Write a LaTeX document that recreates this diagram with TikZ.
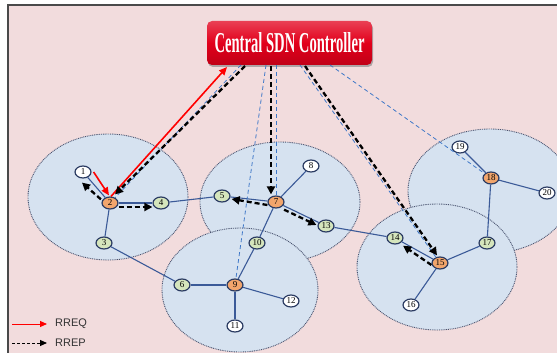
\documentclass[tikz,border=0pt]{standalone}
\usepackage{fontspec}
\usepackage{graphicx}
\setmainfont{Liberation Serif}
\newfontfamily\legendfont{Liberation Sans}
\usetikzlibrary{arrows.meta,shapes.geometric,shadows}

\definecolor{bgpink}{HTML}{F2DCDD}
\definecolor{framegray}{HTML}{4A4A4A}
\definecolor{cellfill}{HTML}{D6E2F0}
\definecolor{cellline}{HTML}{4A5470}
\definecolor{linkblue}{HTML}{3B5A98}
\definecolor{ctrlblue}{HTML}{3F78C8}
\definecolor{nodeedge}{HTML}{2B3B62}
\definecolor{headfill}{HTML}{F2A56C}
\definecolor{memberfill}{HTML}{D5E5BC}
\definecolor{ctrlred}{HTML}{E2001B}

\tikzset{
  cell/.style={fill=cellfill, draw=cellline, line width=0.9pt, dash pattern=on 0.9pt off 0.9pt},
  nd/.style={ellipse, draw=nodeedge, line width=1.2pt, minimum width=16pt, minimum height=12pt,
             inner sep=0pt, font=\fontsize{9}{9}\selectfont},
  head/.style={nd, fill=headfill},
  member/.style={nd, fill=memberfill},
  leaf/.style={nd, fill=white},
  link/.style={draw=linkblue, line width=1.1pt},
  ctrllink/.style={draw=ctrlblue, line width=0.8pt, dash pattern=on 4pt off 3pt},
  rreq/.style={draw=red, line width=1.6pt, -{Triangle[length=8pt,width=7pt]}},
  rrep/.style={draw=black, line width=2.3pt, dash pattern=on 5pt off 3pt, -{Triangle[length=8pt,width=8pt]}},
  ctrlbox/.style={rounded corners=5pt, minimum width=165pt, minimum height=44pt, inner sep=0pt,
                  top color=ctrlred!75!white, bottom color=ctrlred!85!black, middle color=ctrlred,
                  drop shadow={shadow xshift=1pt, shadow yshift=-2pt, opacity=0.6}, text=white},
  legendtext/.style={font=\legendfont\fontsize{11}{11}\selectfont, text=black!80, anchor=west, inner sep=0pt}
}

\begin{document}
\begin{tikzpicture}[x=1pt,y=-1pt]
\useasboundingbox (0,0) rectangle (557,353);
\fill[white] (0,0) rectangle (557,353);
\fill[bgpink] (8,5) rectangle (557,353);

% cluster ranges
\begin{scope}
  \clip (8,5) rectangle (557,353);
  \path[cell] (108,197) ellipse [x radius=80, y radius=63];
  \path[cell] (280,202) ellipse [x radius=80, y radius=60];
  \path[cell] (490,191) ellipse [x radius=82, y radius=62];
  \path[cell] (240,290) ellipse [x radius=78, y radius=62];
  \path[cell] (437,267) ellipse [x radius=80, y radius=63];
\end{scope}
\draw[framegray, line width=1.3pt] (8,353) -- (8,5) -- (557,5);

% controller
\node[ctrlbox] (ctrl) at (289.5,43) {\resizebox{150pt}{20pt}{\bfseries Central SDN Controller}};

% anchor points along the controller's lower edge
\coordinate (cq) at (227,67);
\coordinate (cb2) at (241,65);
\coordinate (cr2) at (245,66);
\coordinate (cb9) at (266,65);
\coordinate (cr7) at (271,66);
\coordinate (cb7) at (276,65);
\coordinate (cb15) at (300,65);
\coordinate (cr15) at (305,66);
\coordinate (cb18) at (330,65);

% network nodes
\node[leaf]   (n1)  at (83,172)  {1};
\node[head]   (n2)  at (110,203) {2};
\node[member] (n3)  at (104,243) {3};
\node[member] (n4)  at (161,203) {4};
\node[member] (n5)  at (222,196) {5};
\node[member] (n6)  at (182,285) {6};
\node[head]   (n7)  at (276,202) {7};
\node[leaf]   (n8)  at (311,166) {8};
\node[head]   (n9)  at (235,285) {9};
\node[member] (n10) at (257,243) {10};
\node[leaf]   (n11) at (235,326) {11};
\node[leaf]   (n12) at (291,301) {12};
\node[member] (n13) at (326,226) {13};
\node[member] (n14) at (395,238) {14};
\node[head]   (n15) at (440,263) {15};
\node[leaf]   (n16) at (411,305) {16};
\node[member] (n17) at (487,243) {17};
\node[head]   (n18) at (491,178) {18};
\node[leaf]   (n19) at (460,147) {19};
\node[leaf]   (n20) at (547,193) {20};

% links
\foreach \a/\b in {n1/n2, n2/n4, n2/n3, n4/n5, n3/n6, n6/n9, n5/n7, n7/n8, n7/n10,
                   n10/n9, n9/n11, n9/n12, n7/n13, n13/n14, n14/n15, n15/n16,
                   n15/n17, n17/n18, n18/n19, n18/n20}
  \draw[link] (\a) -- (\b);

% controller links
\draw[ctrllink] (cb2) -- (n2);
\draw[ctrllink] (cb9) -- (n9);
\draw[ctrllink] (cb7) -- (n7);
\draw[ctrllink] (cb15) -- (n15);
\draw[ctrllink] (cb18) -- (n18);

% route request
\draw[rreq] ([xshift=2pt]n1.east) -- ([xshift=-1pt,yshift=1pt]n2.north);
\draw[rreq] ([xshift=1pt]n2.north) -- (cq);

% route reply
\draw[rrep] (cr2) -- ([xshift=5pt,yshift=2pt]n2.north);
\draw[rrep] ([xshift=-3pt,yshift=-1pt]n2.north west) -- ([xshift=-1pt,yshift=-4pt]n1.south);
\draw[rrep] ([yshift=-4pt]n2.east) -- ([yshift=-4pt]n4.west);
\draw[rrep] (cr7) -- ([xshift=-5pt,yshift=1pt]n7.north);
\draw[rrep] ([yshift=-3pt]n7.west) -- ([xshift=1pt,yshift=-3pt]n5.east);
\draw[rrep] ([xshift=2pt,yshift=-3pt]n7.south east) -- ([xshift=-1pt,yshift=1pt]n13.west);
\draw[rrep] (cr15) -- ([xshift=-3pt,yshift=1pt]n15.north);
\draw[rrep] ([yshift=-2pt]n15.west) -- ([xshift=2pt,yshift=-3pt]n14.south east);

% legend
\coordinate (qa) at (12,324);
\coordinate (qb) at (47,324);
\coordinate (pa) at (12,343);
\coordinate (pb) at (47,343);
\draw[draw=red, line width=1pt, -{Triangle[length=7pt,width=6pt]}] (qa) -- (qb);
\draw[draw=black, line width=1pt, dash pattern=on 3pt off 2pt, -{Triangle[length=7pt,width=6pt]}] (pa) -- (pb);
\node[legendtext] (lq) at (55,324) {RREQ};
\node[legendtext] (lp) at (55,343) {RREP};
\end{tikzpicture}
\end{document}
